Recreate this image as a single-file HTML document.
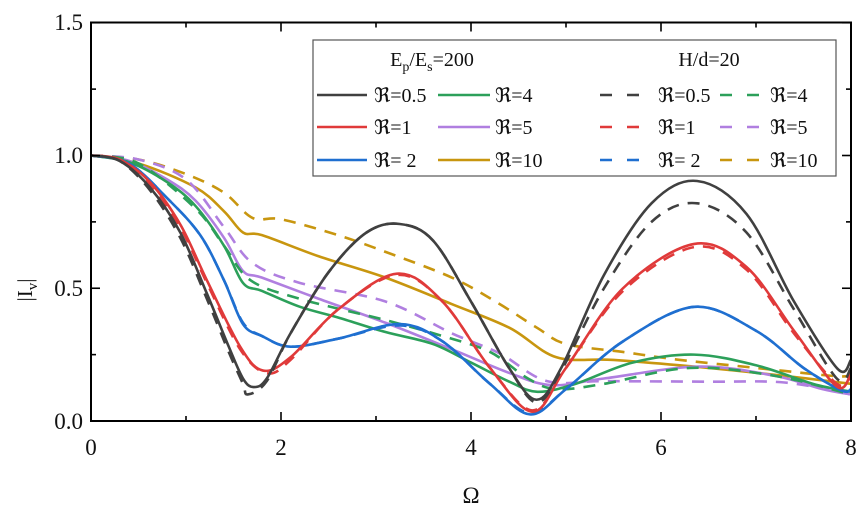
<!DOCTYPE html>
<html><head><meta charset="utf-8"><style>
html,body{margin:0;padding:0;background:#fff;}
svg{display:block;font-family:"Liberation Serif",serif;}
</style></head><body>
<svg id="s" width="866" height="514" viewBox="0 0 866 514" xmlns="http://www.w3.org/2000/svg">
<g id="curves" fill="none" stroke-width="2.6"></g>
<rect x="91" y="22.5" width="760" height="398.5" fill="none" stroke="#000" stroke-width="2"/>
<g id="ticks" stroke="#000" stroke-width="1.6"></g>
<g font-size="23" fill="#111">
<text x="83" y="30" text-anchor="end">1.5</text>
<text x="83" y="163" text-anchor="end">1.0</text>
<text x="83" y="296" text-anchor="end">0.5</text>
<text x="83" y="429" text-anchor="end">0.0</text>
<text x="91" y="455" text-anchor="middle">0</text>
<text x="281" y="455" text-anchor="middle">2</text>
<text x="471" y="455" text-anchor="middle">4</text>
<text x="661" y="455" text-anchor="middle">6</text>
<text x="851" y="455" text-anchor="middle">8</text>
<text x="471" y="503" text-anchor="middle">Ω</text>
<text transform="translate(32,290) rotate(-90)" text-anchor="middle" font-size="21">|I<tspan font-size="15" dy="5">v</tspan><tspan dy="-5">|</tspan></text>
</g>
<g>
<rect x="313" y="40" width="523" height="136" fill="#fff" stroke="#555" stroke-width="1.2"/>
<g font-size="20" fill="#111">
<text x="432" y="66" text-anchor="middle">E<tspan font-size="14" dy="5">p</tspan><tspan dy="-5">/E</tspan><tspan font-size="14" dy="5">s</tspan><tspan dy="-5">=200</tspan></text>
<text x="709" y="66" text-anchor="middle">H/d=20</text>
<text x="374" y="102">ℜ=0.5</text><text x="495" y="102">ℜ=4</text>
<text x="374" y="134">ℜ=1</text><text x="495" y="134">ℜ=5</text>
<text x="374" y="167">ℜ= 2</text><text x="495" y="167">ℜ=10</text>
<text x="658" y="102">ℜ=0.5</text><text x="770" y="102">ℜ=4</text>
<text x="658" y="134">ℜ=1</text><text x="770" y="134">ℜ=5</text>
<text x="658" y="167">ℜ= 2</text><text x="770" y="167">ℜ=10</text>
</g>
<g stroke-width="2.6">
<line x1="317" y1="95" x2="367" y2="95" stroke="#404040"/>
<line x1="438" y1="95" x2="490" y2="95" stroke="#2ca05a"/>
<line x1="317" y1="127" x2="367" y2="127" stroke="#e03a3a"/>
<line x1="438" y1="127" x2="490" y2="127" stroke="#b07fe0"/>
<line x1="317" y1="160" x2="367" y2="160" stroke="#1f6fd0"/>
<line x1="438" y1="160" x2="490" y2="160" stroke="#c8960f"/>
<g stroke-dasharray="12,15">
<line x1="600" y1="95" x2="642" y2="95" stroke="#404040"/>
<line x1="720" y1="95" x2="762" y2="95" stroke="#2ca05a"/>
<line x1="600" y1="127" x2="642" y2="127" stroke="#e03a3a"/>
<line x1="720" y1="127" x2="762" y2="127" stroke="#b07fe0"/>
<line x1="600" y1="160" x2="642" y2="160" stroke="#1f6fd0"/>
<line x1="720" y1="160" x2="762" y2="160" stroke="#c8960f"/>
</g></g></g>
</svg>
<script>
var X=function(o){return 91+95*o},Y=function(v){return 421-265.5*v};
function path(p){var q=p.map(function(a){return [X(a[0]),Y(a[1])]});var d="M"+q[0][0]+","+q[0][1];
for(var i=0;i<q.length-1;i++){var p0=q[i-1]||q[i],p1=q[i],p2=q[i+1],p3=q[i+2]||p2;
d+=" C"+(p1[0]+(p2[0]-p0[0])/6)+","+(p1[1]+(p2[1]-p0[1])/6)+" "+(p2[0]-(p3[0]-p1[0])/6)+","+(p2[1]-(p3[1]-p1[1])/6)+" "+p2[0]+","+p2[1];}return d;}
var S=[
["#c8960f",1,[[0,1],[.5,.985],[1,.93],[1.4,.86],[1.7,.765],[2,.76],[2.6,.7],[3.1,.637],[3.8,.54],[4.28,.445],[4.7,.35],[5,.29],[5.6,.26],[6.2,.23],[7,.2],[7.8,.17],[8,.17]]],
["#c8960f",0,[[0,1],[.5,.97],[1.1,.88],[1.4,.79],[1.6,.71],[1.8,.7],[2.4,.62],[3.1,.54],[3.8,.44],[4.41,.35],[4.9,.24],[5.5,.23],[6.5,.2],[7.3,.17],[8,.14]]],
["#b07fe0",1,[[0,1],[.5,.985],[1,.91],[1.4,.73],[1.7,.595],[2.2,.52],[3.1,.45],[3.8,.33],[4.3,.255],[4.8,.15],[5.4,.15],[6.5,.148],[7.3,.145],[8,.1]]],
["#b07fe0",0,[[0,1],[.4,.98],[.8,.91],[1.1,.83],[1.4,.69],[1.6,.565],[1.8,.54],[2.4,.46],[3.1,.37],[3.8,.27],[4.41,.18],[4.85,.135],[5.4,.16],[6.4,.205],[7.2,.17],[7.7,.12],[8,.1]]],
["#2ca05a",1,[[0,1],[.5,.97],[1.1,.8],[1.4,.66],[1.68,.53],[2.2,.46],[3.1,.38],[3.7,.32],[4.2,.26],[4.6,.16],[4.9,.12],[5.4,.14],[6.3,.2],[7.2,.17],[8,.1]]],
["#2ca05a",0,[[0,1],[.4,.975],[.8,.9],[1.1,.81],[1.4,.66],[1.6,.52],[1.8,.49],[2.2,.43],[2.6,.39],[3.1,.335],[3.6,.29],[4,.22],[4.41,.147],[4.7,.11],[5.1,.14],[5.7,.22],[6.35,.25],[7,.21],[7.6,.14],[8,.11]]],
["#1f6fd0",1,[[0,1],[.4,.97],[.8,.84],[1.15,.7],[1.4,.53],[1.6,.37],[1.8,.32],[2.1,.28],[2.6,.31],[3.25,.36],[3.7,.3],[4.2,.14],[4.62,.03],[5,.12],[5.6,.3],[6.35,.43],[7,.34],[7.5,.2],[7.9,.115],[8,.12]]],
["#1f6fd0",0,[[0,1],[.4,.97],[.8,.84],[1.15,.7],[1.4,.53],[1.6,.365],[1.8,.32],[2.1,.28],[2.6,.31],[3.25,.365],[3.7,.3],[4.2,.14],[4.62,.025],[5,.12],[5.6,.3],[6.35,.43],[7,.34],[7.5,.2],[7.9,.115],[8,.12]]],
["#e03a3a",1,[[0,1],[.3,.985],[.62,.89],[.94,.73],[1.22,.52],[1.57,.27],[1.85,.18],[2.1,.23],[2.6,.42],[3.22,.55],[3.7,.45],[4.2,.2],[4.65,.04],[5,.2],[5.6,.49],[6.35,.655],[6.9,.57],[7.4,.33],[7.85,.14],[8,.17]]],
["#e03a3a",0,[[0,1],[.3,.985],[.62,.9],[.94,.74],[1.22,.53],[1.57,.28],[1.81,.19],[2.1,.24],[2.6,.42],[3.22,.555],[3.7,.45],[4.2,.2],[4.65,.035],[5,.2],[5.6,.5],[6.35,.667],[6.9,.58],[7.4,.34],[7.85,.13],[8,.18]]],
["#404040",1,[[0,1],[.3,.98],[.62,.87],[.94,.69],[1.22,.46],[1.45,.26],[1.6,.14],[1.65,.1],[1.85,.15],[2.1,.33],[2.5,.56],[2.9,.71],[3.25,.742],[3.6,.68],[4,.45],[4.4,.2],[4.69,.07],[4.95,.19],[5.4,.5],[5.9,.75],[6.38,.82],[6.9,.71],[7.4,.42],[7.85,.16],[8,.2]]],
["#404040",0,[[0,1],[.3,.98],[.62,.88],[.94,.71],[1.22,.48],[1.45,.28],[1.6,.16],[1.71,.128],[1.85,.16],[2.1,.33],[2.5,.56],[2.9,.71],[3.25,.742],[3.6,.68],[4,.45],[4.4,.2],[4.69,.08],[4.95,.2],[5.4,.55],[5.9,.82],[6.38,.904],[6.9,.78],[7.4,.45],[7.86,.196],[8,.23]]]
];
var g=document.getElementById("curves"),ns="http://www.w3.org/2000/svg";
S.forEach(function(s){var e=document.createElementNS(ns,"path");e.setAttribute("d",path(s[2]));e.setAttribute("stroke",s[0]);if(s[1])e.setAttribute("stroke-dasharray","12,9");g.appendChild(e);});
var t=document.getElementById("ticks"),h="";
for(var i=0;i<=8;i++){var x=X(i),L=i%2?5:9;h+='<line x1="'+x+'" y1="421" x2="'+x+'" y2="'+(421-L)+'"/><line x1="'+x+'" y1="22.5" x2="'+x+'" y2="'+(22.5+L)+'"/>';}
for(var j=0;j<=6;j++){var y=Y(j*.25),L2=j%2?5:9;h+='<line x1="91" y1="'+y+'" x2="'+(91+L2)+'" y2="'+y+'"/><line x1="851" y1="'+y+'" x2="'+(851-L2)+'" y2="'+y+'"/>';}
t.innerHTML=h;
</script>
</body></html>
